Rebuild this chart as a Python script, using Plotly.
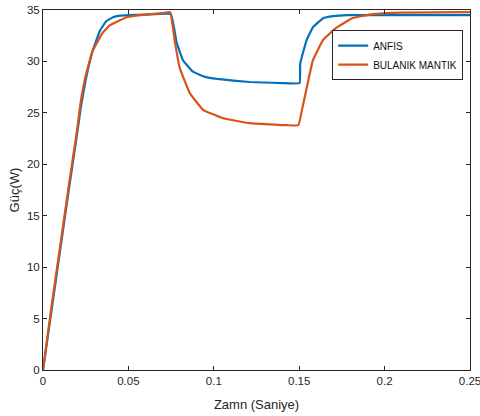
import plotly.graph_objects as go

# ANFIS series (time in s, power in W)
t_anfis = [0, 0.005, 0.01, 0.015, 0.02, 0.0222, 0.025, 0.029, 0.0334, 0.037, 0.041, 0.045, 0.05, 0.06, 0.0748,
           0.0783, 0.082, 0.0878, 0.095, 0.102, 0.121, 0.14, 0.1502,
           0.1506, 0.1544, 0.158, 0.164, 0.17, 0.178, 0.19, 0.25]
p_anfis = [0, 5.8, 11.6, 17.4, 23.0, 25.6, 28.2, 31.0, 33.0, 33.9, 34.3, 34.45, 34.5, 34.55, 34.6,
           31.8, 30.1, 29.0, 28.5, 28.3, 28.0, 27.9, 27.9,
           29.8, 32.1, 33.3, 34.2, 34.4, 34.5, 34.5, 34.5]

# BULANIK MANTIK series
t_bm = [0, 0.005, 0.01, 0.015, 0.02, 0.0222, 0.025, 0.029, 0.035, 0.039, 0.045, 0.049, 0.06, 0.07, 0.0744,
        0.0773, 0.080, 0.086, 0.0937, 0.105, 0.121, 0.143, 0.1495,
        0.152, 0.1545, 0.158, 0.164, 0.172, 0.181, 0.193, 0.21, 0.25]
p_bm = [0, 6.2, 12.0, 17.8, 23.4, 26.2, 28.6, 31.0, 32.8, 33.5, 34.0, 34.3, 34.55, 34.7, 34.8,
        31.8, 29.4, 26.9, 25.3, 24.5, 24.0, 23.8, 23.8,
        25.6, 27.5, 30.1, 32.1, 33.3, 34.2, 34.6, 34.75, 34.8]

x_ticks = [0, 0.05, 0.1, 0.15, 0.2, 0.25]
x_labels = ["0", "0.05", "0.1", "0.15", "0.2", "0.25"]
y_ticks = [0, 5, 10, 15, 20, 25, 30, 35]

FONT = "Liberation Sans Narrow, Liberation Sans, Arial, sans-serif"

fig = go.Figure()
fig.add_trace(go.Scatter(x=t_anfis, y=p_anfis, mode="lines", name="ANFIS",
                         line=dict(color="#0072BD", width=2.2, shape="spline", smoothing=0.3)))
fig.add_trace(go.Scatter(x=t_bm, y=p_bm, mode="lines", name="BULANIK MANTIK",
                         line=dict(color="#D95319", width=2.2, shape="spline", smoothing=0.3)))

axis_common = dict(showgrid=False, zeroline=False, showline=True, linecolor="#262626",
                   linewidth=1, mirror="ticks", ticks="inside", ticklen=4, tickcolor="#262626",
                   automargin=False, ticklabeloverflow="allow",
                   tickfont=dict(size=11.5, color="#262626", family=FONT))

fig.update_layout(
    width=480, height=416,
    margin=dict(l=43, r=10, t=10, b=46),
    paper_bgcolor="white", plot_bgcolor="white",
    font=dict(family=FONT, color="#262626"),
    xaxis=dict(range=[0, 0.25], tickvals=x_ticks, ticktext=x_labels,
               title=dict(text="Zamn (Saniye)", font=dict(size=13, family=FONT), standoff=14),
               **axis_common),
    yaxis=dict(range=[0, 35], tickvals=y_ticks,
               title=dict(text="Güç(W)", font=dict(size=13, family=FONT), standoff=4),
               **axis_common),
    legend=dict(x=0.984, y=0.944, xanchor="right", yanchor="top",
                bgcolor="white", bordercolor="#262626", borderwidth=1,
                font=dict(size=10, family=FONT, color="#111111"),
                itemwidth=30, tracegroupgap=0),
    showlegend=True,
)

fig.write_html("out.html", config={"displayModeBar": False},
               post_script="document.body.style.margin='0';")
